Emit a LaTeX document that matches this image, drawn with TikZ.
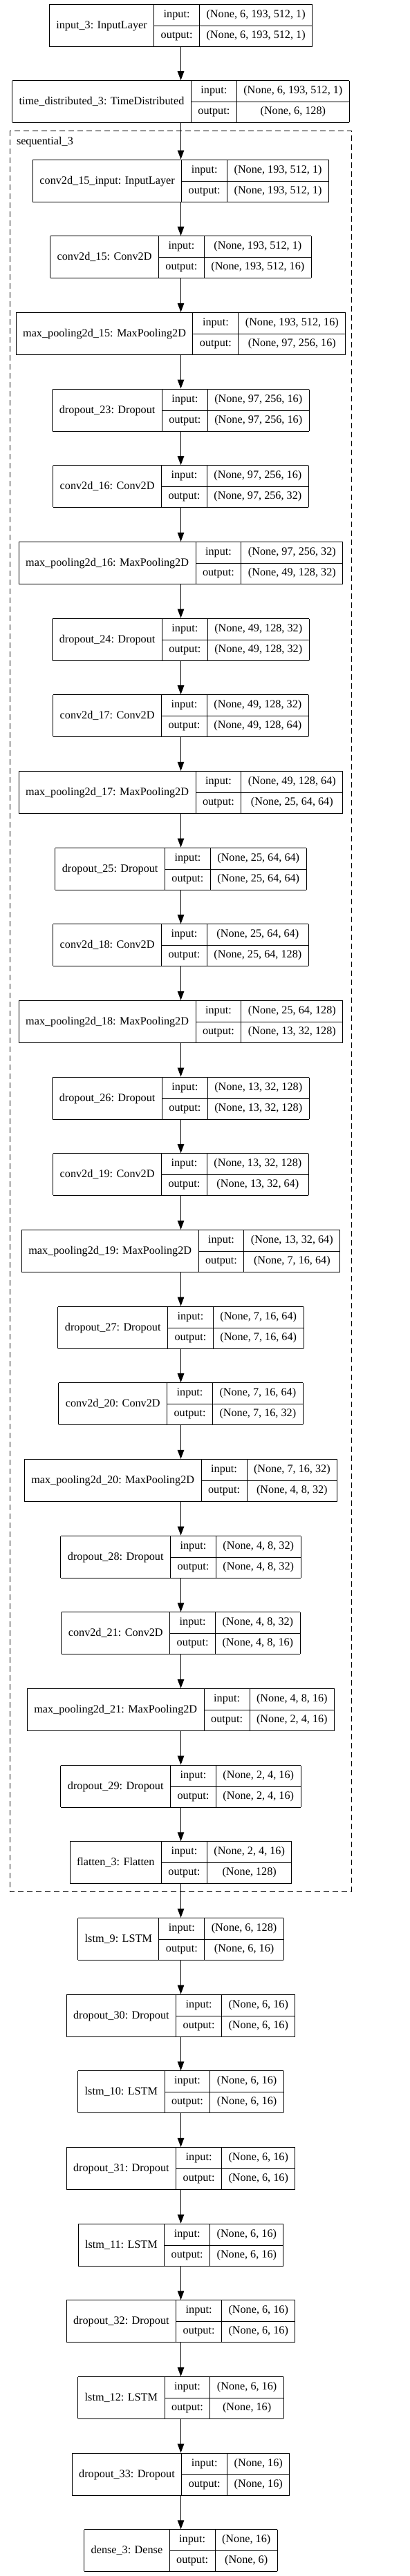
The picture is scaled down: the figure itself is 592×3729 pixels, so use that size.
\documentclass[tikz,border=0pt]{standalone}
\usepackage{fontspec}
\setmainfont{Liberation Serif}
\usetikzlibrary{arrows.meta,positioning}

\newcommand{\rowstrut}{\rule[-11.5pt]{0pt}{30pt}}
\newcommand{\layertab}[3]{%
  \begin{tabular}{|c|c|c|}\hline
  \raisebox{-16pt}[0pt][0pt]{#1} & \rowstrut input: & #2\\ \cline{2-3}
  & \rowstrut output: & #3\\ \hline
  \end{tabular}}

\begin{document}
\begin{tikzpicture}[x=1pt, y=-1pt,
  layer/.style={inner sep=0pt, outer sep=0pt, font=\fontsize{16.2}{19.5}\selectfont},
  flow/.style={line width=1pt, -{Triangle[length=13pt, width=9.5pt]}}]
\useasboundingbox (0,0) rectangle (592,3729);
\setlength{\tabcolsep}{10pt}
\setlength{\arrayrulewidth}{1pt}

% outer model
\node[layer] (in3) at (261.5,36.5) {\layertab{input\_3: InputLayer}{(None, 6, 193, 512, 1)}{(None, 6, 193, 512, 1)}};
\node[layer] (td3) at (261.5,147.2) {\layertab{time\_distributed\_3: TimeDistributed}{(None, 6, 193, 512, 1)}{(None, 6, 128)}};
\draw[flow] (in3) -- (td3);

% sequential_3
\draw[line width=1pt, dash pattern=on 8pt off 5pt] (14,189) rectangle (508,2738);
\node[layer, anchor=base west] (seq3) at (24,209.5) {sequential\_3};

\foreach \nm/\lbl/\ishp/\oshp [count=\k, remember=\nm as \prev (initially td3)] in {
  c15in/{conv2d\_15\_input: InputLayer}/{(None, 193, 512, 1)}/{(None, 193, 512, 1)},
  c15/{conv2d\_15: Conv2D}/{(None, 193, 512, 1)}/{(None, 193, 512, 16)},
  mp15/{max\_pooling2d\_15: MaxPooling2D}/{(None, 193, 512, 16)}/{(None, 97, 256, 16)},
  do23/{dropout\_23: Dropout}/{(None, 97, 256, 16)}/{(None, 97, 256, 16)},
  c16/{conv2d\_16: Conv2D}/{(None, 97, 256, 16)}/{(None, 97, 256, 32)},
  mp16/{max\_pooling2d\_16: MaxPooling2D}/{(None, 97, 256, 32)}/{(None, 49, 128, 32)},
  do24/{dropout\_24: Dropout}/{(None, 49, 128, 32)}/{(None, 49, 128, 32)},
  c17/{conv2d\_17: Conv2D}/{(None, 49, 128, 32)}/{(None, 49, 128, 64)},
  mp17/{max\_pooling2d\_17: MaxPooling2D}/{(None, 49, 128, 64)}/{(None, 25, 64, 64)},
  do25/{dropout\_25: Dropout}/{(None, 25, 64, 64)}/{(None, 25, 64, 64)},
  c18/{conv2d\_18: Conv2D}/{(None, 25, 64, 64)}/{(None, 25, 64, 128)},
  mp18/{max\_pooling2d\_18: MaxPooling2D}/{(None, 25, 64, 128)}/{(None, 13, 32, 128)},
  do26/{dropout\_26: Dropout}/{(None, 13, 32, 128)}/{(None, 13, 32, 128)},
  c19/{conv2d\_19: Conv2D}/{(None, 13, 32, 128)}/{(None, 13, 32, 64)},
  mp19/{max\_pooling2d\_19: MaxPooling2D}/{(None, 13, 32, 64)}/{(None, 7, 16, 64)},
  do27/{dropout\_27: Dropout}/{(None, 7, 16, 64)}/{(None, 7, 16, 64)},
  c20/{conv2d\_20: Conv2D}/{(None, 7, 16, 64)}/{(None, 7, 16, 32)},
  mp20/{max\_pooling2d\_20: MaxPooling2D}/{(None, 7, 16, 32)}/{(None, 4, 8, 32)},
  do28/{dropout\_28: Dropout}/{(None, 4, 8, 32)}/{(None, 4, 8, 32)},
  c21/{conv2d\_21: Conv2D}/{(None, 4, 8, 32)}/{(None, 4, 8, 16)},
  mp21/{max\_pooling2d\_21: MaxPooling2D}/{(None, 4, 8, 16)}/{(None, 2, 4, 16)},
  do29/{dropout\_29: Dropout}/{(None, 2, 4, 16)}/{(None, 2, 4, 16)},
  fl3/{flatten\_3: Flatten}/{(None, 2, 4, 16)}/{(None, 128)},
  ls9/{lstm\_9: LSTM}/{(None, 6, 128)}/{(None, 6, 16)},
  do30/{dropout\_30: Dropout}/{(None, 6, 16)}/{(None, 6, 16)},
  ls10/{lstm\_10: LSTM}/{(None, 6, 16)}/{(None, 6, 16)},
  do31/{dropout\_31: Dropout}/{(None, 6, 16)}/{(None, 6, 16)},
  ls11/{lstm\_11: LSTM}/{(None, 6, 16)}/{(None, 6, 16)},
  do32/{dropout\_32: Dropout}/{(None, 6, 16)}/{(None, 6, 16)},
  ls12/{lstm\_12: LSTM}/{(None, 6, 16)}/{(None, 16)},
  do33/{dropout\_33: Dropout}/{(None, 16)}/{(None, 16)},
  dn3/{dense\_3: Dense}/{(None, 16)}/{(None, 6)}} {
  \node[layer] (\nm) at (261.5,{261.5+(\k-1)*110.67}) {\layertab{\lbl}{\ishp}{\oshp}};
  \draw[flow] (\prev) -- (\nm);
}
\end{tikzpicture}
\end{document}
